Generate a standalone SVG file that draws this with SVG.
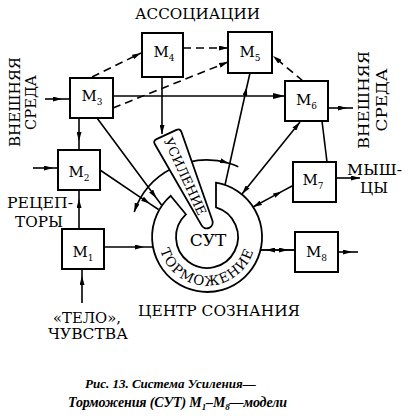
<svg xmlns="http://www.w3.org/2000/svg" width="410" height="416" viewBox="0 0 410 416">
<style>
.box{fill:#fff;stroke:#000;stroke-width:2}
.c{fill:none;stroke:#000;stroke-width:1.6}
.d{stroke-dasharray:8 5}
text{font-family:"DejaVu Serif","Liberation Serif",serif;fill:#000}
.m{font-size:15px;text-anchor:middle}
.sub{font-size:9px}
.lb{font-size:14px}
.vt{font-size:15px;text-anchor:middle}
.cap{font-family:"Liberation Serif","DejaVu Serif",serif;font-size:14px;font-style:italic;font-weight:bold}
</style>
<defs>
<marker id="ah" viewBox="0 0 9 5" refX="9" refY="2.5" markerWidth="9" markerHeight="5" markerUnits="userSpaceOnUse" orient="auto-start-reverse"><path d="M0,0 L9,2.5 L0,5 Z" fill="#000"/></marker>
<marker id="ahL" viewBox="0 0 12 6" refX="12" refY="3" markerWidth="12" markerHeight="6" markerUnits="userSpaceOnUse" orient="auto-start-reverse"><path d="M0,0 L12,3 L0,6 Z" fill="#000"/></marker>
<path id="tp" d="M158.5 237 A48.5 48.5 0 0 0 255.5 237"/>
</defs>
<rect width="410" height="416" fill="#fff"/>
<g id="connectors">
<path class="c" d="M45 99 L62 99 L70 99" marker-mid="url(#ah)"/>
<path class="c" d="M33 168 L53 168 L58 168" marker-mid="url(#ah)"/>
<path class="c" d="M79 118 L79 141 L79 150" marker-mid="url(#ah)"/>
<path class="c" d="M79 229 L79 199 L79 190" marker-mid="url(#ah)"/>
<path class="c" d="M82 303 L82 276 L82 269" marker-mid="url(#ah)"/>
<path class="c" d="M104 247 L144 247 L153 247" marker-mid="url(#ah)"/>
<path class="c d" d="M92 77 L141 53" marker-end="url(#ah)"/>
<path class="c d" d="M183 48 L228 48" marker-end="url(#ah)"/>
<path class="c d" d="M113 108 L228 62" marker-end="url(#ah)"/>
<path class="c d" d="M303 81 L273 56" marker-end="url(#ah)"/>
<path class="c" d="M113 96 L285 96" marker-end="url(#ahL)"/>
<path class="c" d="M162 77 L162 134" marker-end="url(#ah)"/>
<path class="c" d="M225 185 L246.8 87 L250 73" marker-mid="url(#ah)"/>
<path class="c" d="M242 194 L300 122" marker-start="url(#ah)" marker-end="url(#ah)"/>
<path class="c" d="M253 207 L282 191.4 L293 185.5" marker-start="url(#ah)" marker-mid="url(#ah)"/>
<path class="c" d="M295 250 L266 250 L260.5 250" marker-mid="url(#ah)"/>
<path class="c" d="M260.5 250 L288 250 L295 250" marker-mid="url(#ah)"/>
<path class="c" d="M338 252 L352 252 L358 252" marker-mid="url(#ah)"/>
<path class="c" d="M328 108 L347 108 L353 108" marker-mid="url(#ah)"/>
<path class="c" d="M336 178 L360 178" marker-end="url(#ah)"/>
<path class="c" d="M322 121 L327 162"/>
<path class="c" d="M97 118 L156.5 198.3 L161.5 205" marker-mid="url(#ah)"/>
<path class="c" d="M100 170 L150 203.8 L158.5 209.5" marker-mid="url(#ah)"/>
<path class="c" d="M134.2 211.9 A77 77 0 0 1 228.9 163.2 A77 77 0 0 1 238.3 166.7" marker-start="url(#ah)" marker-mid="url(#ah)"/>
</g>
<g id="M1"><rect class="box" x="62" y="229" width="42" height="40"/><text class="m" x="83" y="256.5">М<tspan class="sub" dy="4">1</tspan></text></g>
<g id="M2"><rect class="box" x="58" y="150" width="42" height="40"/><text class="m" x="79" y="176.5">М<tspan class="sub" dy="4">2</tspan></text></g>
<g id="M3"><rect class="box" x="70" y="78" width="43" height="40"/><text class="m" x="92" y="100.5">М<tspan class="sub" dy="4">3</tspan></text></g>
<g id="M4"><rect class="box" x="142" y="33" width="41" height="44"/><text class="m" x="164" y="57">М<tspan class="sub" dy="4">4</tspan></text></g>
<g id="M5"><rect class="box" x="228" y="32" width="44" height="41"/><text class="m" x="250" y="56.5">М<tspan class="sub" dy="4">5</tspan></text></g>
<g id="M6"><rect class="box" x="285" y="81" width="43" height="40"/><text class="m" x="306.5" y="105">М<tspan class="sub" dy="4">6</tspan></text></g>
<g id="M7"><rect class="box" x="293" y="162" width="43" height="40"/><text class="m" x="313" y="185">М<tspan class="sub" dy="4">7</tspan></text></g>
<g id="M8"><rect class="box" x="295" y="232" width="43" height="40"/><text class="m" x="316.5" y="256.5">М<tspan class="sub" dy="4">8</tspan></text></g>
<g id="SUT">
<path d="M216 182.7 A55 55 0 1 1 170.6 195.8 L185.9 214.3 A31 31 0 1 0 216 207.3 Z" fill="#fff" stroke="#000" stroke-width="1.8"/>
<text font-size="13.5" letter-spacing="1.3"><textPath href="#tp" startOffset="50%" text-anchor="middle">ТОРМОЖЕНИЕ</textPath></text>
<text x="208" y="246" font-size="17" text-anchor="middle">СУТ</text>
<g transform="translate(166.5 134.5) rotate(-24.6)">
<path d="M-11 0 L11 0 Q15 0 14.6 4 L6 96.7 A6 6 0 0 1 -6 96.7 L-14.6 4 Q-15 0 -11 0 Z" fill="#fff" stroke="#000" stroke-width="1.8"/>
<text transform="rotate(90)" x="4" y="5" font-size="13" textLength="84" lengthAdjust="spacingAndGlyphs">УСИЛЕНИЕ</text>
</g>
</g>
<g id="labels">
<text class="lb" x="135" y="19" textLength="125" lengthAdjust="spacingAndGlyphs">АССОЦИАЦИИ</text>
<text class="vt" transform="translate(20 102) rotate(-90)" textLength="90" lengthAdjust="spacingAndGlyphs">ВНЕШНЯЯ</text>
<text class="vt" transform="translate(35.5 102.5) rotate(-90)" textLength="55" lengthAdjust="spacingAndGlyphs">СРЕДА</text>
<text class="vt" transform="translate(369 100) rotate(-90)" textLength="98" lengthAdjust="spacingAndGlyphs">ВНЕШНЯЯ</text>
<text class="vt" transform="translate(387 100) rotate(-90)" textLength="63" lengthAdjust="spacingAndGlyphs">СРЕДА</text>
<text class="lb" x="7" y="208" textLength="66" lengthAdjust="spacingAndGlyphs">РЕЦЕП-</text>
<text class="lb" x="15" y="227" textLength="48" lengthAdjust="spacingAndGlyphs">ТОРЫ</text>
<text class="lb" x="53" y="323" textLength="68" lengthAdjust="spacingAndGlyphs">«ТЕЛО»,</text>
<text class="lb" x="48" y="338.5" textLength="80" lengthAdjust="spacingAndGlyphs">ЧУВСТВА</text>
<text class="lb" x="138" y="316" textLength="162" lengthAdjust="spacingAndGlyphs">ЦЕНТР СОЗНАНИЯ</text>
<text class="lb" x="347" y="175" textLength="55" lengthAdjust="spacingAndGlyphs">МЫШ-</text>
<text class="lb" x="360" y="193" textLength="28" lengthAdjust="spacingAndGlyphs">ЦЫ</text>
</g>
<g id="caption">
<text class="cap" x="85" y="388" font-size="13" style="font-size:13px">Рис. 13. Система Усиления—</text>
<text class="cap" x="68" y="407" textLength="219" lengthAdjust="spacing">Торможения (СУТ) М<tspan font-size="9" dy="3">1</tspan><tspan dy="-3">–М</tspan><tspan font-size="9" dy="3">8</tspan><tspan dy="-3">—модели</tspan></text>
</g>
</svg>
